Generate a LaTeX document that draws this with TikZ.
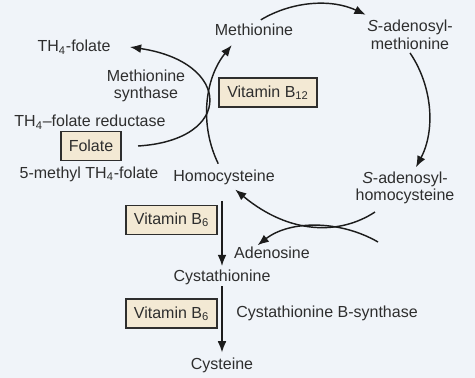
\documentclass[tikz,border=0pt]{standalone}
\usepackage{fontspec}
\setmainfont{Liberation Sans}
\usepackage{xcolor}
\usepackage{tikz}
\usetikzlibrary{arrows.meta,positioning,calc}
\definecolor{bgblue}{HTML}{F0F4F9}
\definecolor{boxtan}{HTML}{F3E9D4}
\definecolor{ink}{HTML}{2E2E2E}
\definecolor{arrink}{HTML}{1C1C1C}

\begin{document}
\begin{tikzpicture}[x=0.625pt,y=0.625pt,
  lb/.style={font=\fontsize{10}{11}\selectfont,text=ink,align=center,inner sep=1pt},
  vb/.style={draw=ink,line width=1pt,fill=boxtan,font=\fontsize{10}{11}\selectfont,text=ink,minimum height=18pt,inner xsep=5pt},
  arr/.style={-{Latex[length=7pt,width=5.5pt]},line width=0.9pt,draw=arrink}]
 % background
 \fill[bgblue] (0,0) rectangle (475,-378);
 \useasboundingbox (0,0) rectangle (475,-378);
 % cycle labels
 \node[lb] (meth) at (254,-30) {Methionine};
 \node[lb] (sam) at (410,-35) {\textit{S}-adenosyl-\\methionine};
 \node[lb] (sah) at (405,-188) {\textit{S}-adenosyl-\\homocysteine};
 \node[lb] (homo) at (224,-177) {Homocysteine};
 \node[vb] (b12) at (268,-92.5) {Vitamin B\textsubscript{12}};
 % folate side
 \node[lb] (th4) at (74,-47) {TH\textsubscript{4}-folate};
 \node[lb] (msyn) at (146,-86) {Methionine\\synthase};
 \node[lb] (red) at (90,-122) {TH\textsubscript{4}--folate reductase};
 \node[vb] (folate) at (91,-146) {Folate};
 \node[lb] (mth4) at (89,-174) {5-methyl TH\textsubscript{4}-folate};
 % transsulfuration
 \node[vb] (b6a) at (171.5,-220) {Vitamin B\textsubscript{6}};
 \node[lb] (adeno) at (272,-253) {Adenosine};
 \node[lb] (cysta) at (222,-277) {Cystathionine};
 \node[vb] (b6b) at (171.5,-313.5) {Vitamin B\textsubscript{6}};
 \node[lb] (cbs) at (327,-313) {Cystathionine B-synthase};
 \node[lb] (cys) at (222,-365) {Cysteine};
 % arcs of the methionine cycle
 \coordinate (cyc) at (318,-115);
 \coordinate (homoout) at ($(cyc)+(206:111)$);
 \coordinate (methout) at ($(cyc)+(121:111)$);
 \coordinate (samout) at ($(cyc)+(34:111)$);
 \draw[arr] (homoout) arc[start angle=206,end angle=141,radius=69.4pt];
 \draw[arr] (methout) arc[start angle=121,end angle=64.6,radius=69.4pt];
 \draw[arr] (samout) arc[start angle=34,end angle=-28,radius=69.4pt];
 % crossing arrows below the cycle
 \coordinate (sahA) at (375,-212);
 \coordinate (sahB) at (378,-242);
 \draw[arr] (sahA) .. controls (340,-235) and (290,-235) .. ([xshift=7pt,yshift=-2pt]homo.south);
 \draw[arr] (sahB) .. controls (340,-220) and (290,-220) .. ([xshift=-9pt]adeno.north);
 % folate arrow
 \draw[arr] ([xshift=10pt]folate.east) .. controls (235,-140) and (232,-62) .. ([xshift=11pt]th4.east);
 % down to cysteine
 \draw[arr,shorten <=9pt,shorten >=1pt] (homo.south -| cysta.north) -- (cysta.north);
 \draw[arr,shorten >=2pt] (cysta.south) -- (cys.north);
\end{tikzpicture}
\end{document}
